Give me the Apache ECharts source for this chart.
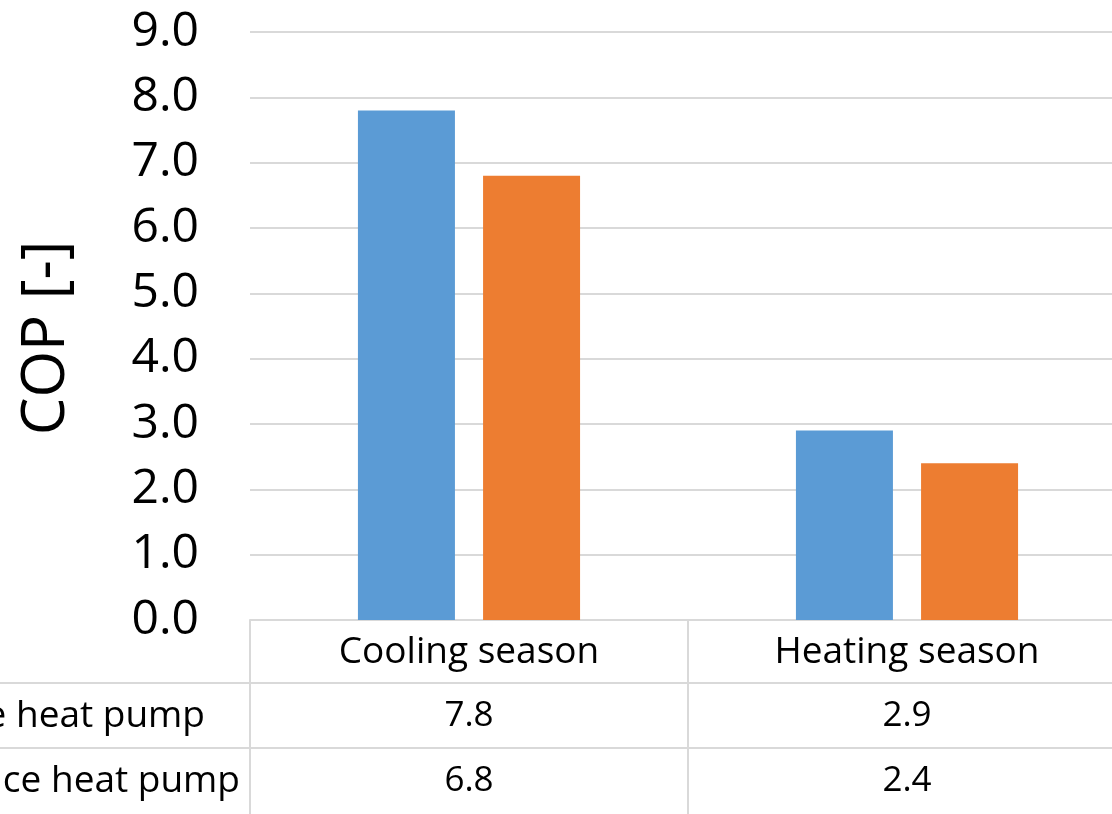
<!DOCTYPE html>
<html><head><meta charset="utf-8">
<script src="https://cdn.jsdelivr.net/npm/echarts@6/dist/echarts.min.js"></script>
<style>html,body{margin:0;padding:0;background:#fff}#c{width:1112px;height:814px}</style>
</head><body><div id="c"></div>
<script>
const categories = ['Cooling season', 'Heating season'];
const seriesNames = ['e heat pump', 'ce heat pump'];
const series1 = [7.8, 2.9];
const series2 = [6.8, 2.4];
const yTicks = [0, 1, 2, 3, 4, 5, 6, 7, 8, 9];

const FONT = 'Open Sans';
const GRID = '#d9d9d9';
const chart = echarts.init(document.getElementById('c'));
chart.setOption({
  animation: false,
  backgroundColor: '#fff',
  textStyle: { fontFamily: FONT },
  grid: { left: 250, top: 32, bottom: 194, width: 876, containLabel: false, outerBoundsMode: 'none' },
  xAxis: {
    type: 'category',
    data: categories,
    axisLine: { show: true, lineStyle: { color: GRID, width: 2 } },
    axisTick: { show: true, length: 200, lineStyle: { color: GRID, width: 2 } },
    axisLabel: {
      interval: 0,
      margin: 0,
      formatter: function (v, i) {
        return '{c|' + v + '}\n{v|' + series1[i].toFixed(1) + '}\n{v|' + series2[i].toFixed(1) + '}';
      },
      rich: {
        c: { fontFamily: FONT, fontSize: 37, color: '#000', lineHeight: 64 },
        v: { fontFamily: FONT, fontSize: 35, color: '#000', lineHeight: 65 }
      }
    }
  },
  yAxis: {
    type: 'value',
    min: 0, max: 9, interval: 1,
    name: 'COP [-]',
    nameLocation: 'middle',
    nameGap: 173,
    nameRotate: 90,
    nameTextStyle: { fontFamily: FONT, fontSize: 60, color: '#000', padding: [0, 24, 0, 0] },
    axisLine: { show: false },
    axisTick: { show: false },
    splitLine: { lineStyle: { color: GRID, width: 2 } },
    axisLabel: {
      margin: 51,
      fontFamily: FONT, fontSize: 48, color: '#000',
      formatter: function (v) { return yTicks.indexOf(v) >= 0 ? v.toFixed(1) : ''; }
    }
  },
  series: [
    { name: seriesNames[0], type: 'bar', data: series1, barWidth: 97, barGap: '29%',
      itemStyle: { color: '#5B9BD5' } },
    { name: seriesNames[1], type: 'bar', data: series2, barWidth: 97, barGap: '29%',
      itemStyle: { color: '#ED7D31' } }
  ],
  graphic: [
    { type: 'line', shape: { x1: 0, y1: 683, x2: 1112, y2: 683 }, style: { stroke: GRID, lineWidth: 2 }, z: 10 },
    { type: 'line', shape: { x1: 0, y1: 748, x2: 1112, y2: 748 }, style: { stroke: GRID, lineWidth: 2 }, z: 10 },
    { type: 'text', x: 205, y: 716, style: { text: seriesNames[0], fontFamily: FONT, fontSize: 37, fill: '#000', textAlign: 'right', textVerticalAlign: 'middle' } },
    { type: 'text', x: 240, y: 781, style: { text: seriesNames[1], fontFamily: FONT, fontSize: 37, fill: '#000', textAlign: 'right', textVerticalAlign: 'middle' } }
  ]
});
</script></body></html>
